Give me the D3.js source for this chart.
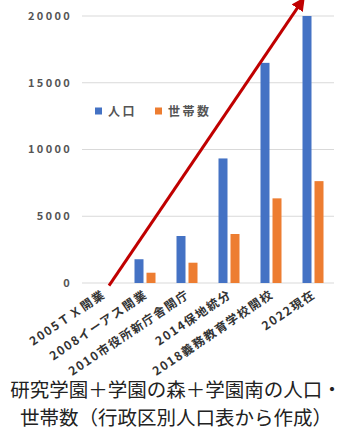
<!DOCTYPE html>
<html>
<head>
<meta charset="utf-8">
<script src="https://cdn.jsdelivr.net/npm/d3@7"></script>
<style>
  body { margin: 0; background: #fff; }
  .chart text { font-family: "Noto Sans CJK JP", "Noto Sans", sans-serif; }
</style>
</head>
<body>
<div class="chart"></div>
<script>
// categories and series
const categories = ["2005ＴＸ開業", "2008イーアス開業", "2010市役所新庁舎開庁", "2014保地統分", "2018義務教育学校開校", "2022現在"];
const population = [0, 1780, 3520, 9330, 16490, 20000];
const households = [0, 770, 1520, 3670, 6340, 7630];
const seriesNames = ["人口", "世帯数"];
const yTicks = [0, 5000, 10000, 15000, 20000];
const caption = ["研究学園＋学園の森＋学園南の人口・", "世帯数（行政区別人口表から作成）"];

const colors = ["#4472C4", "#ED7D31"];
const W = 363, H = 441;

const svg = d3.select(".chart").append("svg")
  .attr("width", W)
  .attr("height", H);

const x = d3.scaleBand().domain(categories).range([82, 334]);
const x1 = d3.scaleBand().domain(seriesNames)
  .range([10.5, x.bandwidth() - 10.5])
  .paddingInner(0.25);
const y = d3.scaleLinear().domain([0, 20000]).range([283, 16]);

// gridlines
svg.append("g")
  .selectAll("line")
  .data(yTicks)
  .enter()
  .append("line")
  .attr("x1", 82)
  .attr("x2", 334)
  .attr("y1", d => y(d))
  .attr("y2", d => y(d))
  .attr("stroke", "#d9d9d9")
  .attr("stroke-width", 1);

// y tick labels
svg.append("g")
  .selectAll("text")
  .data(yTicks)
  .enter()
  .append("text")
  .attr("x", 72)
  .attr("y", d => y(d))
  .attr("dy", "0.35em")
  .attr("text-anchor", "end")
  .style("font-size", "11px")
  .style("font-weight", "bold")
  .style("letter-spacing", "2.3px")
  .attr("fill", "#555")
  .text(d => d);

// bars
const rows = categories.map((c, i) => ({ cat: c, values: [population[i], households[i]] }));
const groups = svg.append("g")
  .selectAll("g")
  .data(rows)
  .enter()
  .append("g")
  .attr("transform", d => `translate(${x(d.cat)},0)`);

groups.selectAll("rect")
  .data(d => d.values.map((v, j) => ({ key: seriesNames[j], v: v, j: j })))
  .enter()
  .append("rect")
  .attr("x", d => x1(d.key))
  .attr("width", x1.bandwidth())
  .attr("y", d => y(d.v))
  .attr("height", d => y(0) - y(d.v))
  .attr("fill", d => colors[d.j]);

// x tick labels, rotated
svg.append("g")
  .selectAll("text")
  .data(categories)
  .enter()
  .append("text")
  .attr("transform", d => `translate(${x(d) + x.bandwidth() / 2 + 1},293) rotate(-34)`)
  .attr("text-anchor", "end")
  .attr("dy", "0.35em")
  .style("font-size", "12px")
  .style("font-weight", "bold")
  .style("letter-spacing", "1.5px")
  .attr("fill", "#333")
  .text(d => d);

// legend
const legend = svg.append("g").attr("transform", "translate(95,111)");
const lx = [0, 60];
seriesNames.forEach((name, i) => {
  legend.append("rect")
    .attr("x", lx[i])
    .attr("y", -3.5)
    .attr("width", 7)
    .attr("height", 7)
    .attr("fill", colors[i]);
  legend.append("text")
    .attr("x", lx[i] + 13)
    .attr("y", 0)
    .attr("dy", "0.38em")
    .style("font-size", "12px")
    .style("font-weight", "bold")
    .style("letter-spacing", "2.5px")
    .attr("fill", "#555")
    .text(name);
});

// red arrow annotation
const defs = svg.append("defs");
defs.append("marker")
  .attr("id", "head")
  .attr("viewBox", "0 0 10 10")
  .attr("refX", 5)
  .attr("refY", 5)
  .attr("markerWidth", 4.5)
  .attr("markerHeight", 4.5)
  .attr("orient", "auto")
  .append("path")
  .attr("d", "M0,0 L10,5 L0,10 Z")
  .attr("fill", "#C00000");

svg.append("line")
  .attr("x1", x(categories[0]) + x.bandwidth() / 2 + 6)
  .attr("y1", y(-200))
  .attr("x2", x(categories[5]) + x.bandwidth() / 2 - 12)
  .attr("y2", y(21000))
  .attr("stroke", "#C00000")
  .attr("stroke-width", 3)
  .attr("marker-end", "url(#head)");

// caption
svg.append("g")
  .selectAll("text")
  .data(caption)
  .enter()
  .append("text")
  .attr("x", 176)
  .attr("y", (d, i) => 397 + i * 28)
  .attr("text-anchor", "middle")
  .style("font-size", "19.5px")
  .attr("fill", "#222")
  .text(d => d);
</script>
</body>
</html>
